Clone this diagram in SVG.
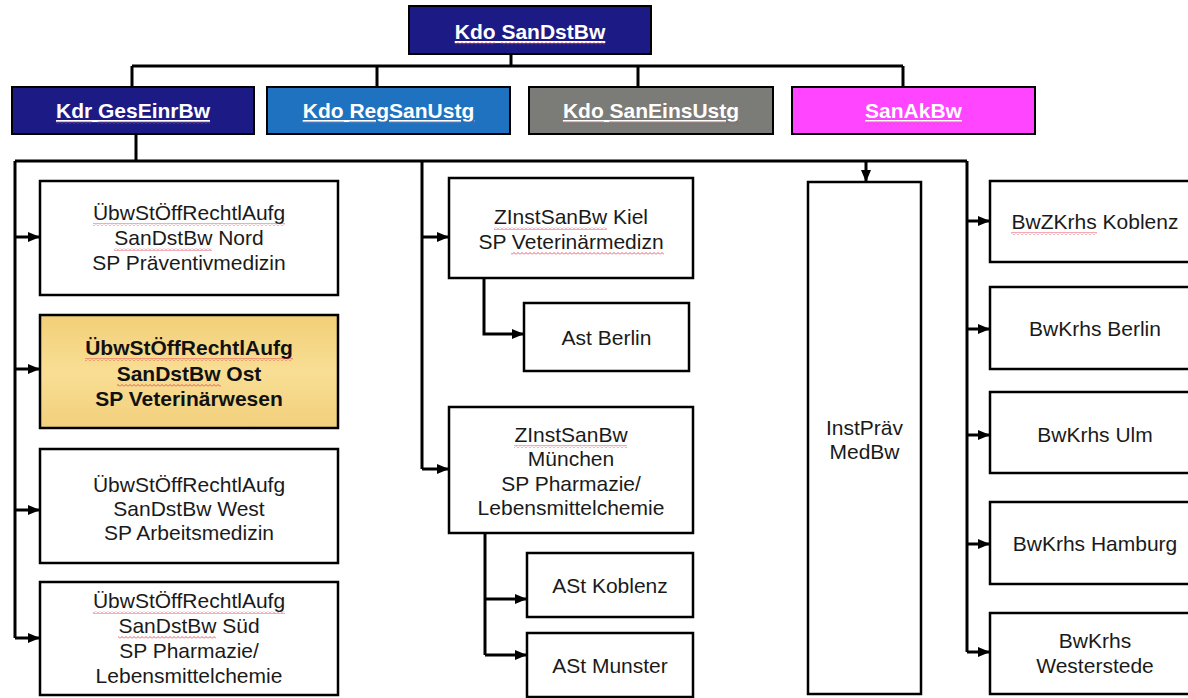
<svg xmlns="http://www.w3.org/2000/svg" width="1188" height="698" viewBox="0 0 1188 698">
<style>
.bx{fill:#fff;stroke:#000;stroke-width:2.5}
.gd{fill:url(#gold)}
.hd{stroke:#000;stroke-width:2}
.t{font-family:"Liberation Sans",Arial,sans-serif;font-size:21px;fill:#1a1a1a;text-anchor:middle}
.b{font-weight:bold;fill:#111}
.ht{font-family:"Liberation Sans",Arial,sans-serif;font-size:21px;font-weight:bold;fill:#fff;text-anchor:middle;text-decoration:underline}
.ln{fill:none;stroke:#000;stroke-width:3}
.ar{fill:none;stroke:#000;stroke-width:3;marker-end:url(#ah)}
.sq{fill:url(#sq)}
</style>
<defs>
<marker id="ah" markerWidth="13" markerHeight="12" viewBox="0 0 13 12" refX="12" refY="6" orient="auto" markerUnits="userSpaceOnUse">
<path d="M0,1 L12,6 L0,11 Z" fill="#000"/>
</marker>
<pattern id="sq" width="4" height="3" patternUnits="userSpaceOnUse">
<path d="M0,2.5 L2,0.5 L4,2.5" fill="none" stroke="#e0304a" stroke-width="0.8"/>
</pattern>
<linearGradient id="gold" x1="0" y1="0" x2="0" y2="1">
<stop offset="0" stop-color="#f2cf78"/>
<stop offset="0.5" stop-color="#f8de94"/>
<stop offset="1" stop-color="#f2d07c"/>
</linearGradient>
</defs>
<rect width="1188" height="698" fill="#fff"/>

<g id="connectors">
<path class="ln" d="M511,54 V66 M132,66 H903 M132,66 V87 M377,66 V87 M638,66 V87 M903,66 V87"/>
<path class="ln" d="M136,134 V161 M15,161 H967 M15,161 V638 M422,161 V469 M967,161 V652"/>
<path class="ar" d="M15,237 H40"/>
<path class="ar" d="M15,369 H40"/>
<path class="ar" d="M15,510 H40"/>
<path class="ar" d="M15,638 H40"/>
<path class="ar" d="M422,237 H449"/>
<path class="ar" d="M422,469 H449"/>
<path class="ar" d="M484,278 V334 H524"/>
<path class="ln" d="M485,533 V655"/>
<path class="ar" d="M485,599 H527"/>
<path class="ar" d="M485,655 H527"/>
<path class="ar" d="M866,161 V182"/>
<path class="ar" d="M967,221 H990"/>
<path class="ar" d="M967,329 H990"/>
<path class="ar" d="M967,435 H990"/>
<path class="ar" d="M967,544 H990"/>
<path class="ar" d="M967,652 H990"/>
</g>

<g id="n-kdo-sandstbw">
<rect class="hd" x="409" y="6" width="242" height="48" fill="#1c1b85"/>
<text class="ht" x="530" y="39">Kdo SanDstBw</text>
<rect class="sq" x="455" y="42" width="40" height="3"/><rect class="sq" x="501" y="42" width="104" height="3"/>
</g>
<g id="n-kdr-geseinrbw">
<rect class="hd" x="12" y="87" width="242" height="47" fill="#1c1b85"/>
<text class="ht" x="133" y="118">Kdr GesEinrBw</text>
<rect class="sq" x="56" y="121" width="36" height="3"/><rect class="sq" x="98" y="121" width="112" height="3"/>
</g>
<g id="n-kdo-regsanustg">
<rect class="hd" x="267" y="87" width="243" height="47" fill="#1e72bf"/>
<text class="ht" x="388.5" y="118">Kdo RegSanUstg</text>
<rect class="sq" x="303" y="121" width="41" height="3"/><rect class="sq" x="349" y="121" width="125" height="3"/>
</g>
<g id="n-kdo-saneinsustg">
<rect class="hd" x="529" y="87" width="244" height="47" fill="#7b7b78"/>
<text class="ht" x="651" y="118">Kdo SanEinsUstg</text>
<rect class="sq" x="563" y="121" width="41" height="3"/><rect class="sq" x="609" y="121" width="130" height="3"/>
</g>
<g id="n-sanakbw">
<rect class="hd" x="792" y="87" width="243" height="47" fill="#ff45ff"/>
<text class="ht" x="913.5" y="118">SanAkBw</text>
<rect class="sq" x="865" y="121" width="97" height="3"/>
</g>

<g id="n-nord">
<rect class="bx" x="40" y="181" width="298" height="114"/>
<text class="t" x="189" y="220">ÜbwStÖffRechtlAufg</text>
<text class="t" x="189" y="245">SanDstBw Nord</text>
<text class="t" x="189" y="270">SP Präventivmedizin</text>
<rect class="sq" x="93" y="223" width="192" height="3"/><rect class="sq" x="114" y="248" width="98" height="3"/>
</g>
<g id="n-ost">
<rect class="bx gd" x="40" y="315" width="298" height="113"/>
<text class="t b" x="189" y="355">ÜbwStÖffRechtlAufg</text>
<text class="t b" x="189" y="381">SanDstBw Ost</text>
<text class="t b" x="189" y="406">SP Veterinärwesen</text>
<rect class="sq" x="85" y="358" width="208" height="3"/><rect class="sq" x="117" y="384" width="104" height="3"/>
</g>
<g id="n-west">
<rect class="bx" x="40" y="449" width="298" height="114"/>
<text class="t" x="189" y="492">ÜbwStÖffRechtlAufg</text>
<text class="t" x="189" y="516">SanDstBw West</text>
<text class="t" x="189" y="540">SP Arbeitsmedizin</text>
</g>
<g id="n-sued">
<rect class="bx" x="40" y="582" width="298" height="113"/>
<text class="t" x="189" y="608">ÜbwStÖffRechtlAufg</text>
<text class="t" x="189" y="633">SanDstBw Süd</text>
<text class="t" x="189" y="658">SP Pharmazie/</text>
<text class="t" x="189" y="683">Lebensmittelchemie</text>
<rect class="sq" x="93" y="611" width="192" height="3"/><rect class="sq" x="118" y="636" width="98" height="3"/>
</g>

<g id="n-kiel">
<rect class="bx" x="449" y="178" width="244" height="100"/>
<text class="t" x="571" y="224">ZInstSanBw Kiel</text>
<text class="t" x="571" y="249">SP Veterinärmedizn</text>
<rect class="sq" x="494" y="227" width="113" height="3"/><rect class="sq" x="511" y="252" width="153" height="3"/>
</g>
<g id="n-ast-berlin">
<rect class="bx" x="524" y="303" width="165" height="68"/>
<text class="t" x="606.5" y="345">Ast Berlin</text>
</g>
<g id="n-muenchen">
<rect class="bx" x="449" y="407" width="244" height="126"/>
<text class="t" x="571" y="442">ZInstSanBw</text>
<text class="t" x="571" y="466">München</text>
<text class="t" x="571" y="491">SP Pharmazie/</text>
<text class="t" x="571" y="515">Lebensmittelchemie</text>
<rect class="sq" x="514" y="445" width="113" height="3"/>
</g>
<g id="n-ast-koblenz">
<rect class="bx" x="527" y="553" width="166" height="64"/>
<text class="t" x="610" y="593">ASt Koblenz</text>
</g>
<g id="n-ast-munster">
<rect class="bx" x="527" y="633" width="166" height="64"/>
<text class="t" x="610" y="673">ASt Munster</text>
</g>

<g id="n-instpraev">
<rect class="bx" x="808" y="182" width="113" height="512"/>
<text class="t" x="864.5" y="435">InstPräv</text>
<text class="t" x="864.5" y="459">MedBw</text>
</g>
<g id="n-bwzkrhs-koblenz">
<rect class="bx" x="990" y="181" width="212" height="81"/>
<text class="t" x="1095" y="229">BwZKrhs Koblenz</text>
<rect class="sq" x="1011" y="232" width="86" height="3"/>
</g>
<g id="n-bwkrhs-berlin">
<rect class="bx" x="990" y="287" width="212" height="82"/>
<text class="t" x="1095" y="336">BwKrhs Berlin</text>
</g>
<g id="n-bwkrhs-ulm">
<rect class="bx" x="990" y="392" width="212" height="81"/>
<text class="t" x="1095" y="442">BwKrhs Ulm</text>
</g>
<g id="n-bwkrhs-hamburg">
<rect class="bx" x="990" y="502" width="212" height="82"/>
<text class="t" x="1095" y="551">BwKrhs Hamburg</text>
</g>
<g id="n-bwkrhs-westerstede">
<rect class="bx" x="990" y="613" width="212" height="81"/>
<text class="t" x="1095" y="648">BwKrhs</text>
<text class="t" x="1095" y="673">Westerstede</text>
</g>
</svg>
